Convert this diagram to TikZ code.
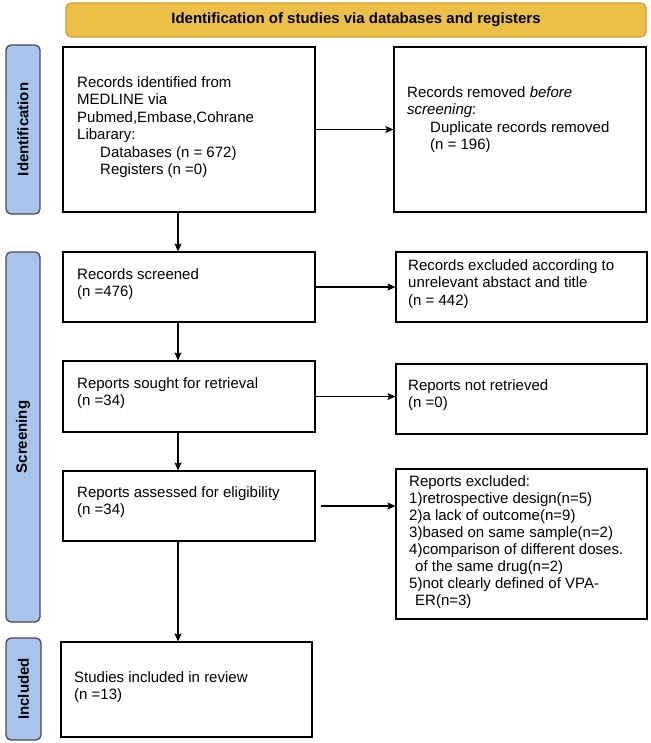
\documentclass[tikz,border=0pt]{standalone}
\usepackage{fontspec}
\setmainfont{Liberation Sans}
\usetikzlibrary{arrows.meta}
\definecolor{bannerfill}{HTML}{ECC046}
\definecolor{bannerdraw}{HTML}{C9A035}
\definecolor{labfill}{HTML}{A9C4EC}
\definecolor{labdraw}{HTML}{4A4A4A}
\begin{document}
\begin{tikzpicture}[x=1pt,y=-1pt,
  font=\fontsize{15}{17.5}\selectfont,
  box/.style={draw=black, line width=1.1pt, rectangle, inner sep=0pt},
  txt/.style={anchor=north west, align=left, inner sep=0pt},
  lab/.style={draw=labdraw, fill=labfill, rounded corners=5pt, line width=1.3pt, inner sep=0pt, font=\fontsize{15}{17.5}\selectfont\bfseries},
  arr/.style={line width=1.1pt, -{Stealth[length=8pt,width=7pt,inset=1.5pt]}}]
\useasboundingbox (0,0) rectangle (650,743);
% banner
\node[draw=bannerdraw, fill=bannerfill, rounded corners=5pt, line width=1.3pt, minimum width=580pt, minimum height=34pt, inner sep=0pt, font=\fontsize{15}{17.5}\selectfont\bfseries] (banner) at (356,20) {Identification of studies via databases and registers};
% side labels
\node[lab, rotate=90, minimum width=169pt, minimum height=34pt] (idlab) at (23,129.5) {Identification};
\node[lab, rotate=90, minimum width=370pt, minimum height=34pt] (scrlab) at (23,437) {Screening};
\node[lab, rotate=90, minimum width=102pt, minimum height=35pt] (inclab) at (23.5,689) {Included};
% boxes
\node[box, minimum width=252pt, minimum height=165pt] (rec) at (189,129.5) {};
\node[box, minimum width=252pt, minimum height=165pt] (rem) at (520,129.5) {};
\node[box, minimum width=252pt, minimum height=70pt] (scr) at (189,287) {};
\node[box, minimum width=251pt, minimum height=70pt] (exc) at (521.5,287) {};
\node[box, minimum width=252pt, minimum height=71pt] (sought) at (189,396.5) {};
\node[box, minimum width=251pt, minimum height=70pt] (notret) at (521.5,399) {};
\node[box, minimum width=252pt, minimum height=70pt] (assess) at (189,506) {};
\node[box, minimum width=251pt, minimum height=150pt] (repexc) at (521.5,544) {};
\node[box, minimum width=251pt, minimum height=95pt] (incl) at (186.5,689.5) {};
% texts (placed by top of first line = baseline - 11)
\node[txt] (trec) at (77,76) {Records identified from\\MEDLINE via\\Pubmed,Embase,Cohrane\\Libarary:\\\hspace*{23pt}Databases (n = 672)\\\hspace*{23pt}Registers (n =0)};
\node[txt] (trem) at (407,86) {Records removed \textit{before}\\\textit{screening}:\\\hspace*{23pt}Duplicate records removed\\\hspace*{23pt}(n = 196)};
\node[txt] (tscr) at (77,268) {Records screened\\(n =476)};
\node[txt] (texc) at (408,259) {Records excluded according to\\unrelevant abstact and title\\(n = 442)};
\node[txt] (tsought) at (77,377) {Reports sought for retrieval\\(n =34)};
\node[txt] (tnotret) at (408,379) {Reports not retrieved\\(n =0)};
\node[txt] (tassess) at (77,486) {Reports assessed for eligibility\\(n =34)};
\node[txt, font=\fontsize{15}{17.1}\selectfont] (trepexc) at (409,475) {Reports excluded:\\1)retrospective design(n=5)\\2)a lack of outcome(n=9)\\3)based on same sample(n=2)\\4)comparison of different doses.\\\hspace*{6pt}of the same drug(n=2)\\5)not clearly defined of VPA-\\\hspace*{6pt}ER(n=3)};
\node[txt] (tincl) at (74,671) {Studies included in review\\(n =13)};
% connectors
\draw[arr] (rec.south -| 178,0) -- (scr.north -| 178,0);
\draw[arr] (scr.south -| 178,0) -- (sought.north -| 178,0);
\draw[arr] (sought.south -| 178,0) -- (assess.north -| 178,0);
\draw[arr] (assess.south -| 178,0) -- (incl.north -| 178,0);
\draw[arr] (rec.east) -- (rem.west);
\draw[arr] (scr.east) -- (exc.west);
\draw[arr] (sought.east) -- (sought.east -| notret.west);
\draw[arr] ([xshift=5pt]assess.east) -- (assess.east -| repexc.west);
\end{tikzpicture}
\end{document}
